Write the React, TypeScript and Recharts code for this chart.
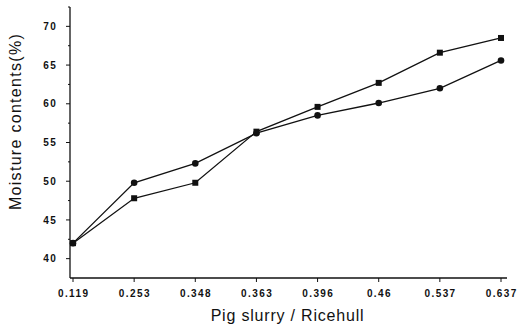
import React from 'react';
import { LineChart, Line, XAxis, YAxis } from 'recharts';

const ratios = ['0.119', '0.253', '0.348', '0.363', '0.396', '0.46', '0.537', '0.637'];
const circleSeries = [42.0, 49.8, 52.3, 56.2, 58.5, 60.1, 62.0, 65.6];
const squareSeries = [42.0, 47.8, 49.8, 56.4, 59.6, 62.7, 66.6, 68.5];
const yTicks = [40, 42.5, 45, 47.5, 50, 52.5, 55, 57.5, 60, 62.5, 65, 67.5, 70, 72.5];

const data = ratios.map((r, i) => ({ ratio: r, circle: circleSeries[i], square: squareSeries[i] }));

const INK = '#111';
const FONT = '"Liberation Sans", Arial, sans-serif';

const YTick = (props: any) => {
  const { x, y, payload } = props;
  const v = payload.value;
  const major = Math.abs(v % 5) < 1e-6;
  const len = major ? 4 : 2;
  return (
    <g>
      <line x1={x} x2={x - len} y1={y} y2={y} stroke={INK} strokeWidth={1} />
      {major && (
        <text x={x - 13} y={y} dy={3.6} textAnchor="end" fontSize={10} fontWeight="bold" fontFamily={FONT} fill={INK} letterSpacing={1.3}>
          {v}
        </text>
      )}
    </g>
  );
};

const XTick = (props: any) => {
  const { x, y, payload } = props;
  return (
    <g>
      <line x1={x} x2={x} y1={y} y2={y + 4} stroke={INK} strokeWidth={1} />
      <text x={x + 0.7} y={y + 19} textAnchor="middle" fontSize={10} fontWeight="bold" fontFamily={FONT} fill={INK} letterSpacing={1.4}>
        {payload.value}
      </text>
    </g>
  );
};

const SquareDot = (props: any) => {
  const { cx, cy } = props;
  if (cx == null || cy == null) return null;
  return <rect x={cx - 3} y={cy - 3} width={6} height={6} fill={INK} />;
};

const CircleDot = (props: any) => {
  const { cx, cy } = props;
  if (cx == null || cy == null) return null;
  return <circle cx={cx} cy={cy} r={3.3} fill={INK} />;
};

const YLabel = (props: any) => {
  const vb = props.viewBox || { x: 0, y: 7, width: 70, height: 271 };
  const cx = vb.x + 15;
  const cy = vb.y + vb.height / 2 - 21;
  return (
    <text x={cx} y={cy} transform={`rotate(-90 ${cx} ${cy})`} textAnchor="middle" dominantBaseline="central"
      fontSize={16} fontFamily={FONT} fill={INK} letterSpacing={1.3}>
      Moisture contents(%)
    </text>
  );
};

const XLabel = (props: any) => {
  const vb = props.viewBox || { x: 70, y: 278, width: 437, height: 50 };
  const cx = vb.x + vb.width / 2 - 1;
  const cy = vb.y + 43;
  return (
    <text x={cx} y={cy} textAnchor="middle" fontSize={16} fontFamily={FONT} fill={INK} letterSpacing={0.8}>
      Pig slurry / Ricehull
    </text>
  );
};

export default function App() {
  return (
    <div style={{ position: 'absolute', left: 0, top: 0, width: 517, height: 328, background: '#fff' }}>
      <LineChart width={517} height={328} data={data} margin={{ top: 7, right: 10, bottom: 0, left: 0 }}>
        <XAxis
          dataKey="ratio"
          type="category"
          scale="point"
          padding={{ left: 3, right: 6 }}
          height={50}
          axisLine={{ stroke: INK, strokeWidth: 1.3 }}
          tickLine={false}
          tickSize={0}
          tickMargin={0}
          tick={<XTick />}
          interval={0}
          label={<XLabel />}
        />
        <YAxis
          type="number"
          domain={[37.5, 72.5]}
          ticks={yTicks}
          width={70}
          axisLine={{ stroke: INK, strokeWidth: 1.3 }}
          tickLine={false}
          tickSize={0}
          tickMargin={0}
          tick={<YTick />}
          interval={0}
          label={<YLabel />}
        />
        <Line type="linear" dataKey="circle" stroke={INK} strokeWidth={1.3} dot={<CircleDot />} activeDot={false} isAnimationActive={false} />
        <Line type="linear" dataKey="square" stroke={INK} strokeWidth={1.3} dot={<SquareDot />} activeDot={false} isAnimationActive={false} />
      </LineChart>
    </div>
  );
}
